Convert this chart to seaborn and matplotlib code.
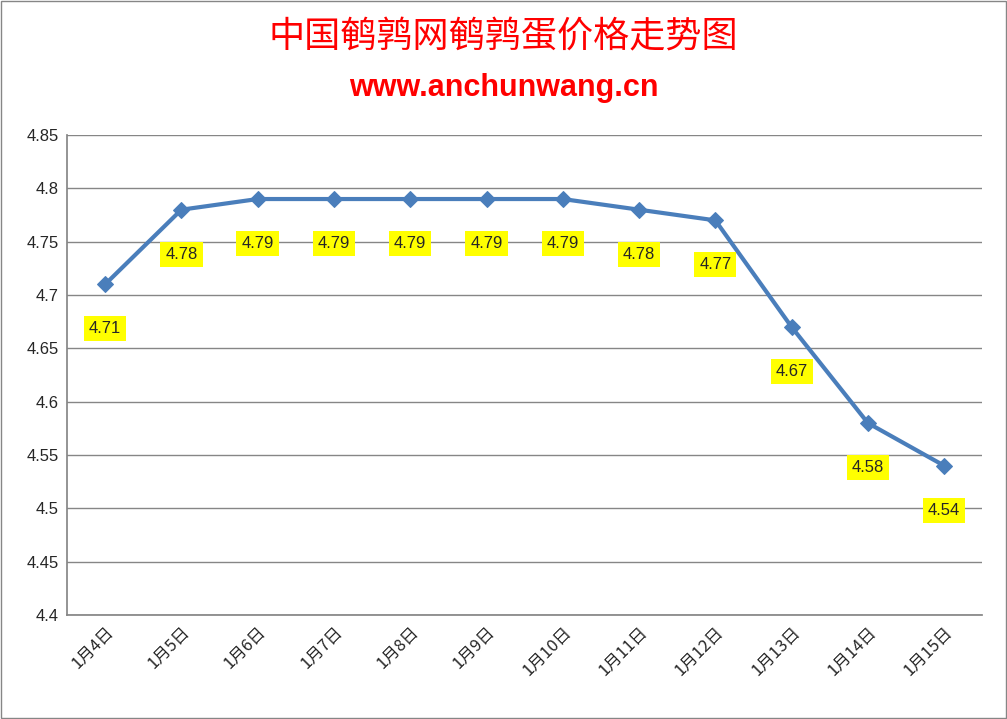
import matplotlib
matplotlib.use("Agg")
import matplotlib.pyplot as plt
import seaborn as sns
import pandas as pd

dates = ["1月4日","1月5日","1月6日","1月7日","1月8日","1月9日","1月10日","1月11日","1月12日","1月13日","1月14日","1月15日"]
prices = [4.71,4.78,4.79,4.79,4.79,4.79,4.79,4.78,4.77,4.67,4.58,4.54]
yticks = [4.4,4.45,4.5,4.55,4.6,4.65,4.7,4.75,4.8,4.85]
ytick_labels = ["4.4","4.45","4.5","4.55","4.6","4.65","4.7","4.75","4.8","4.85"]

sns.set_theme(style="white")
plt.rcParams['font.family'] = ['Noto Sans CJK SC', 'DejaVu Sans']

df = pd.DataFrame({"idx": range(len(dates)), "price": prices})
fig = plt.figure(figsize=(10.07, 7.19), dpi=100)
ax = fig.add_axes([0.0665, 0.1446, 0.909, 0.6676])
sns.lineplot(data=df, x="idx", y="price", ax=ax, color="#4a7ebb", linewidth=3,
             marker="D", markersize=8, markeredgecolor="#4a7ebb")
for i, v in enumerate(prices):
    ax.annotate(f"{v:.2f}", (i, v), xytext=(0, -32), textcoords="offset points",
                ha="center", va="center", fontsize=12, family=['Liberation Sans'],
                bbox=dict(boxstyle="square,pad=0.3", fc="#ffff00", ec="none"))
ax.set_xlim(-0.5, len(dates) - 0.5)
ax.set_ylim(4.4, 4.85)
ax.set_yticks(yticks)
ax.set_yticklabels(ytick_labels, fontsize=12, family=['Liberation Sans'])
ax.set_xticks(range(len(dates)))
ax.set_xticklabels(dates, rotation=45, ha="right", rotation_mode="anchor", fontsize=12)
ax.set_xlabel(""); ax.set_ylabel("")
ax.grid(axis="y", color="#868686", linewidth=1)
for s in ["top", "right"]:
    ax.spines[s].set_visible(False)
for s in ["left", "bottom"]:
    ax.spines[s].set_color("#868686")
ax.tick_params(axis="both", length=0, pad=6)
fig.text(0.5, 0.948, "中国鹌鹑网鹌鹑蛋价格走势图", ha="center", va="center", color="#ff0000", fontsize=26)
fig.text(0.5, 0.878, "www.anchunwang.cn", ha="center", va="center", color="#ff0000",
         fontsize=22, fontweight="bold", family=['Liberation Sans'])
fig.patches.append(plt.Rectangle((0.001, 0.001), 0.998, 0.998, transform=fig.transFigure,
                                 fill=False, ec="#868686", lw=1))
fig.savefig("out.png", dpi=100)
